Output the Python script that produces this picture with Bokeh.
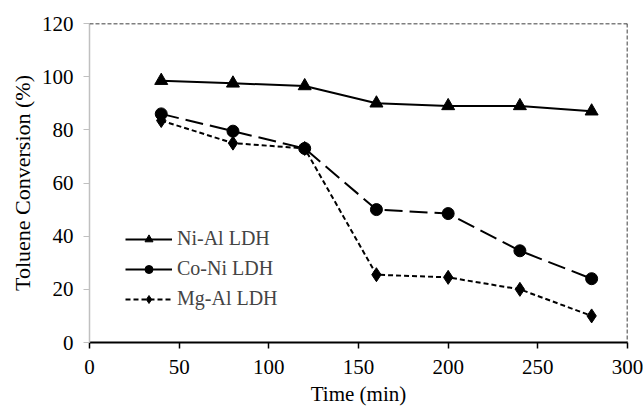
from bokeh.plotting import figure
from bokeh.models import Range1d, Span, Legend, LegendItem, ColumnDataSource, FixedTicker
from bokeh.embed import file_html
from bokeh.resources import INLINE

time = [40, 80, 120, 160, 200, 240, 280]
ni_al = [98.5, 97.5, 96.5, 90, 89, 89, 87]
co_ni = [86, 79.5, 73, 50, 48.5, 34.5, 24]
mg_al = [83.5, 75, 73, 25.5, 24.5, 20, 10]
x_ticks = [0, 50, 100, 150, 200, 250, 300]
y_ticks = [0, 20, 40, 60, 80, 100, 120]

FONT = "Liberation Serif"

p = figure(width=643, height=408, output_backend="svg", toolbar_location=None,
           x_range=Range1d(0, 300), y_range=Range1d(0, 120),
           min_border_left=89, min_border_right=16, min_border_top=23, min_border_bottom=66)
p.outline_line_color = None
p.xgrid.visible = False
p.ygrid.visible = False

# top/right dashed border
p.add_layout(Span(location=120, dimension="width", line_color="black", line_dash="4 2", line_width=1.5))
p.add_layout(Span(location=300, dimension="height", line_color="black", line_dash="4 2", line_width=1.5))

src = ColumnDataSource(dict(t=time, ni=ni_al, co=co_ni, mg=mg_al))
p.line("t", "ni", source=src, line_color="black", line_width=2)
p.scatter("t", "ni", source=src, marker="triangle", size=13, color="black")
p.line("t", "co", source=src, line_color="black", line_width=2, line_dash="18 7")
p.scatter("t", "co", source=src, marker="circle", size=12, color="black")
p.line("t", "mg", source=src, line_color="black", line_width=2, line_dash="5 3")
p.scatter("t", "mg", source=src, marker="diamond", size=14, color="black")

# legend-only renderers (not visible in the plot area)
nan = float("nan")
empty = ColumnDataSource(dict(x=[nan], y=[nan]))
l1 = p.line("x", "y", source=empty, line_color="black", line_width=2)
m1 = p.scatter("x", "y", source=empty, marker="triangle", size=11, color="black")
l2 = p.line("x", "y", source=empty, line_color="black", line_width=2)
m2 = p.scatter("x", "y", source=empty, marker="circle", size=11, color="black")
l3 = p.line("x", "y", source=empty, line_color="black", line_width=2, line_dash="5 3")
m3 = p.scatter("x", "y", source=empty, marker="diamond", size=11, color="black")

legend = Legend(items=[LegendItem(label="Ni-Al LDH", renderers=[l1, m1]),
                       LegendItem(label="Co-Ni LDH", renderers=[l2, m2]),
                       LegendItem(label="Mg-Al LDH", renderers=[l3, m3])],
                location=(36, 32), background_fill_alpha=0, border_line_color=None,
                label_text_font=FONT, label_text_font_size="20px",
                glyph_width=47, glyph_height=20, label_height=20, spacing=7,
                padding=0, margin=0, label_standoff=5)
p.add_layout(legend)

# axes
p.xaxis.ticker = FixedTicker(ticks=x_ticks)
p.yaxis.ticker = FixedTicker(ticks=y_ticks)
for ax in (p.xaxis[0], p.yaxis[0]):
    ax.major_label_text_font = FONT
    ax.major_label_text_font_size = "21px"
    ax.major_label_text_color = "black"
    ax.axis_label_text_font = FONT
    ax.axis_label_text_font_style = "normal"
    ax.axis_label_text_color = "black"
    ax.minor_tick_line_color = None
    ax.major_tick_in = 0
    ax.major_tick_out = 6
p.xaxis.axis_label = "Time (min)"
p.yaxis.axis_label = "Toluene Conversion (%)"
p.xaxis.axis_label_text_font_size = "21px"
p.yaxis.axis_label_text_font_size = "22px"
p.xaxis.axis_line_color = "black"
p.xaxis.axis_line_width = 2
p.xaxis.major_tick_line_color = "black"
p.xaxis.major_tick_line_width = 1.5
p.xaxis.axis_label_standoff = 5
p.xaxis.major_label_standoff = 11
p.yaxis.axis_line_color = "#c0c0c0"
p.yaxis.axis_line_width = 1.5
p.yaxis.major_tick_line_color = "#c0c0c0"
p.yaxis.axis_label_standoff = 4
p.yaxis.major_label_standoff = 10

open("out.html", "w").write(file_html(p, INLINE))
